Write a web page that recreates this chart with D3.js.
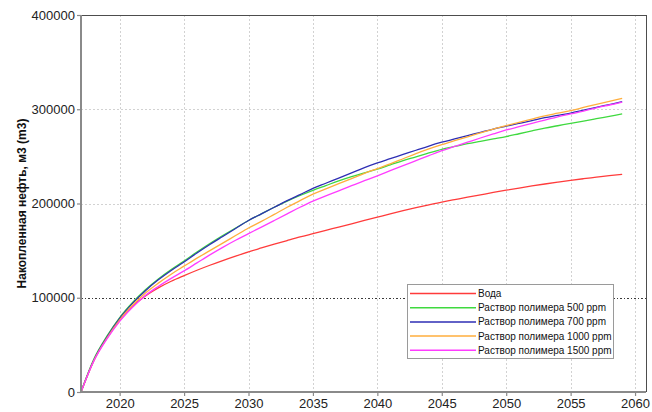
<!DOCTYPE html>
<html>
<head>
<meta charset="utf-8">
<script src="https://cdn.jsdelivr.net/npm/d3@7"></script>
<style>
  html, body { margin: 0; padding: 0; background: #ffffff; }
  svg { display: block; font-family: "Liberation Sans", Arial, sans-serif; }
</style>
</head>
<body>
<svg id="chart" width="652" height="412"></svg>
<script>
// Годы расчёта
const years = [
  2017, 2018, 2019, 2020, 2021, 2022, 2023, 2024, 2025, 2026,
  2027, 2028, 2029, 2030, 2031, 2032, 2033, 2034, 2035, 2036,
  2037, 2038, 2039, 2040, 2041, 2042, 2043, 2044, 2045, 2046,
  2047, 2048, 2049, 2050, 2051, 2052, 2053, 2054, 2055, 2056,
  2057, 2058, 2059
];

// Накопленная добыча нефти, м3
const water = [
  0, 33500, 57000, 76000, 91000, 102000, 110500, 117500, 123500, 129200,
  134500, 139500, 144200, 148700, 152800, 156800, 160700, 164500, 168000, 171500,
  175000, 178500, 182000, 185500, 189000, 192400, 195600, 198600, 201500, 204100,
  206700, 209200, 211700, 214100, 216400, 218600, 220700, 222700, 224600, 226300,
  227900, 229500, 231000
];
const poly500 = [
  0, 35000, 59000, 79000, 95000, 108500, 120000, 130000, 139000, 148500,
  157500, 166000, 174000, 182000, 189000, 196000, 202500, 208500, 214000, 219000,
  224000, 228500, 232500, 236500, 241000, 245500, 249500, 253700, 257500, 260500,
  263500, 266000, 268500, 271000, 274000, 277000, 280000, 282500, 285000, 287500,
  290000, 292500, 295000
];
const poly700 = [
  0, 34000, 58000, 78000, 94000, 107500, 119000, 129000, 138000, 147500,
  156500, 165000, 173500, 182000, 189000, 196000, 203000, 209500, 216000, 221500,
  227000, 232500, 238000, 243000, 247500, 252000, 256500, 261000, 265000, 268500,
  272000, 275500, 279000, 282000, 285000, 288000, 291000, 293500, 296000, 299000,
  302000, 305000, 308000
];
const poly1000 = [
  0, 33500, 57000, 76500, 92000, 105000, 115500, 125000, 133500, 142000,
  150000, 158000, 166000, 174000, 181000, 188500, 196000, 203000, 210000, 215500,
  221000, 226500, 232000, 237000, 242000, 247500, 253000, 258000, 262500, 266700,
  270800, 274900, 279000, 282700, 286200, 289600, 293000, 295800, 298600, 301900,
  305200, 308400, 311600
];
const poly1500 = [
  0, 33000, 56000, 75000, 90000, 102500, 112000, 120500, 128500, 137000,
  145500, 153500, 161000, 168000, 175000, 182000, 189000, 196000, 202500, 208000,
  213500, 219000, 224200, 229400, 234800, 240200, 245500, 250800, 256000, 260500,
  265000, 269500, 273800, 278000, 281500, 285000, 288500, 292000, 295000, 298000,
  301500, 304500, 307500
];

const seriesNames = [
  "Вода",
  "Раствор полимера 500 ppm",
  "Раствор полимера 700 ppm",
  "Раствор полимера 1000 ppm",
  "Раствор полимера 1500 ppm"
];
const seriesValues = [water, poly500, poly700, poly1000, poly1500];
const seriesColors = ["#ff3b3b", "#3fd93f", "#2e2eb4", "#ffae3c", "#ff3cff"];

const xTicks = [2020, 2025, 2030, 2035, 2040, 2045, 2050, 2055, 2060];
const yTicks = [0, 100000, 200000, 300000, 400000];
const yLabel = "Накопленная нефть, м3 (m3)";

// Область построения
const plotLeft = 81, plotRight = 646, plotTop = 15, plotBottom = 392;

const svg = d3.select("#chart");

const x = d3.scaleLinear().domain([2017, 2060.85]).range([plotLeft, plotRight]);
const y = d3.scaleLinear().domain([0, 400000]).range([plotBottom, plotTop]);

// Сетка
const grid = svg.append("g");
grid.selectAll("line.vgrid")
  .data(xTicks)
  .join("line")
  .attr("class", "vgrid")
  .attr("x1", d => Math.round(x(d)) + 0.5)
  .attr("x2", d => Math.round(x(d)) + 0.5)
  .attr("y1", plotTop)
  .attr("y2", plotBottom)
  .attr("stroke", "#d2d2d2")
  .attr("stroke-width", 1)
  .attr("stroke-dasharray", "2,2");

grid.selectAll("line.hgrid")
  .data(yTicks.filter(d => d > 0 && d < 400000))
  .join("line")
  .attr("class", "hgrid")
  .attr("x1", plotLeft)
  .attr("x2", plotRight)
  .attr("y1", d => Math.round(y(d)) + 0.5)
  .attr("y2", d => Math.round(y(d)) + 0.5)
  .attr("stroke", d => d === 100000 ? "#3a3a3a" : "#d2d2d2")
  .attr("stroke-width", 1)
  .attr("stroke-dasharray", d => d === 100000 ? "2,2,1,2" : "2,2");

// Кривые
const clipId = "plot-clip";
svg.append("clipPath").attr("id", clipId)
  .append("rect")
  .attr("x", plotLeft).attr("y", plotTop)
  .attr("width", plotRight - plotLeft).attr("height", plotBottom - plotTop);

const line = d3.line()
  .x((d, i) => x(years[i]))
  .y(d => y(d))
  .curve(d3.curveMonotoneX);

svg.append("g")
  .attr("clip-path", `url(#${clipId})`)
  .selectAll("path")
  .data(seriesValues)
  .join("path")
  .attr("d", d => line(d))
  .attr("fill", "none")
  .attr("stroke", (d, i) => seriesColors[i])
  .attr("stroke-width", 1.3);

// Рамка
svg.append("line")
  .attr("x1", plotLeft).attr("x2", plotRight + 0.5)
  .attr("y1", plotTop + 0.5).attr("y2", plotTop + 0.5)
  .attr("stroke", "#4d4d4d").attr("stroke-width", 1);
svg.append("line")
  .attr("x1", plotRight + 0.5).attr("x2", plotRight + 0.5)
  .attr("y1", plotTop).attr("y2", plotBottom)
  .attr("stroke", "#4d4d4d").attr("stroke-width", 1);

// Оси
const xAxis = d3.axisBottom(x)
  .tickValues(xTicks)
  .tickFormat(d3.format("d"))
  .tickSize(4)
  .tickPadding(3);
const gx = svg.append("g")
  .attr("transform", `translate(0,${plotBottom})`)
  .call(xAxis);

const yAxis = d3.axisLeft(y)
  .tickValues(yTicks)
  .tickFormat(d3.format("d"))
  .tickSize(4)
  .tickPadding(2);
const gy = svg.append("g")
  .attr("transform", `translate(${plotLeft},0)`)
  .call(yAxis);

[gx, gy].forEach(g => {
  g.select(".domain").attr("stroke", "#8a8a8a").attr("stroke-width", 2);
  g.selectAll(".tick line").attr("stroke", "#8a8a8a").attr("stroke-width", 1.2);
  g.selectAll(".tick text")
    .attr("fill", "#222222")
    .style("font-size", "13px")
    .style("font-family", "'Liberation Sans', Arial, sans-serif");
});
gx.select(".domain").attr("d", `M${plotLeft},0H${plotRight}`);
gy.select(".domain").attr("d", `M0,${plotTop}V${plotBottom}`);

// Подпись оси Y
svg.append("text")
  .attr("transform", `translate(26,${(plotTop + plotBottom) / 2}) rotate(-90)`)
  .attr("text-anchor", "middle")
  .attr("fill", "#111111")
  .style("font-size", "12px")
  .style("font-weight", "bold")
  .text(yLabel);

// Легенда
const legend = svg.append("g");
legend.append("rect")
  .attr("x", 407.5).attr("y", 284.5)
  .attr("width", 206).attr("height", 74)
  .attr("fill", "#ffffff")
  .attr("stroke", "#9a9a9a")
  .attr("stroke-width", 1);

const rows = legend.selectAll("g.row")
  .data(seriesNames)
  .join("g")
  .attr("class", "row")
  .attr("transform", (d, i) => `translate(0,${293.5 + i * 14.2})`);

rows.append("line")
  .attr("x1", 410).attr("x2", 476)
  .attr("y1", 0).attr("y2", 0)
  .attr("stroke", (d, i) => seriesColors[i])
  .attr("stroke-width", 1.5);

rows.append("text")
  .attr("x", 478)
  .attr("y", 0)
  .attr("dy", "0.35em")
  .attr("fill", "#111111")
  .style("font-size", "10px")
  .text(d => d);
</script>
</body>
</html>
